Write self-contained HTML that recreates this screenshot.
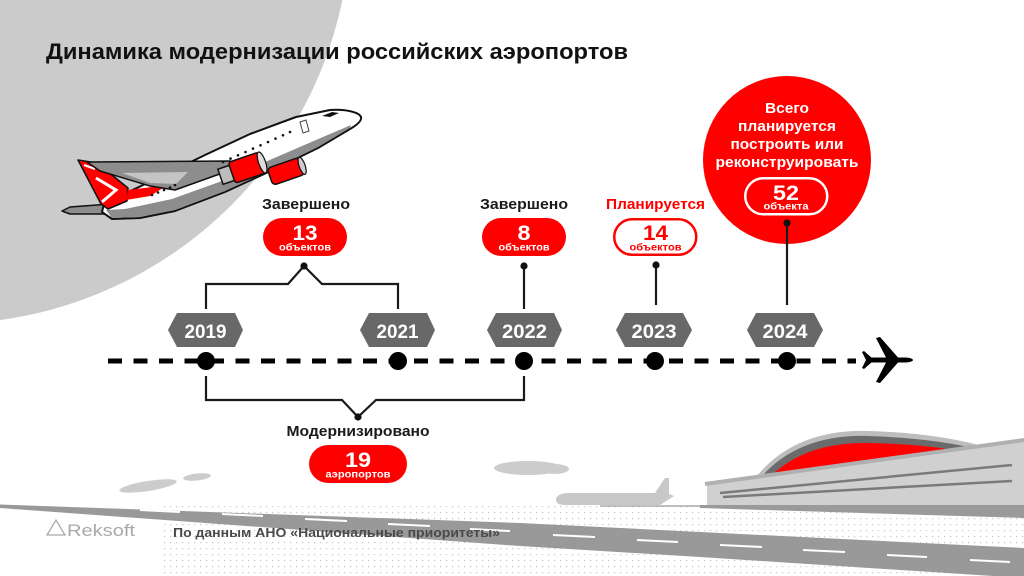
<!DOCTYPE html>
<html><head><meta charset="utf-8">
<style>
html,body{margin:0;padding:0;background:#fff;}
svg{display:block;}
text{font-family:"Liberation Sans","Noto Sans CJK SC",sans-serif;font-weight:bold;}
</style></head><body>
<svg width="1024" height="576" viewBox="0 0 1024 576" xmlns="http://www.w3.org/2000/svg">
<defs>
<pattern id="dots" width="6" height="6" patternUnits="userSpaceOnUse">
<rect x="2" y="2" width="1.2" height="1.2" fill="#c6c6c6"/>
</pattern>
</defs>
<rect width="1024" height="576" fill="#fff"/>
<circle cx="-56" cy="-83" r="407" fill="#cbcbcb"/>

<!-- Title -->
<text x="46" y="59" font-size="22" fill="#111" textLength="582" lengthAdjust="spacingAndGlyphs">Динамика модернизации российских аэропортов</text>

<!-- Big plane -->
<g>
<polygon points="62,211 70,207 124,203 127,210 118,214 70,214" fill="#8d8d8d" stroke="#111" stroke-width="1.5" stroke-linejoin="round"/>
<path d="M361,117 C359,112 345,109 330,110 L296,117 L250,134 L205,155 L160,177 L122,195 L104,204 L102,212 L112,219 L140,218 L175,211 L225,192 L275,169 L318,148 L350,129 C357,125 362,121 361,117 Z" fill="#fff" stroke="#111" stroke-width="2" stroke-linejoin="round"/>
<path d="M112,218 L140,217 L175,210 L225,191 L275,168 L318,147 L350,128 L351,125 L316,140 L272,159 L222,181 L172,199 L125,209 L106,210 Z" fill="#8d8d8d"/>
<polygon points="78,160 97,163 128,188 127,201 108,209 101,204" fill="#ff0000" stroke="#111" stroke-width="1.5" stroke-linejoin="round"/>
<polyline points="96,178 116,190 102,202" fill="none" stroke="#fff" stroke-width="3"/>
<polyline points="84,165 95,169" fill="none" stroke="#fff" stroke-width="2"/>
<polygon points="128,190 168,185 150,196 126,200" fill="#ff0000"/>
<polygon points="87,162 230,161 242,166 175,190 150,186 100,171" fill="#8d8d8d" stroke="#111" stroke-width="1.5" stroke-linejoin="round"/>
<polygon points="122,173 188,172 176,184 150,183" fill="#c4c4c4"/>
<g fill="#111">
<circle cx="223" cy="162" r="1.3"/><circle cx="230.5" cy="158.6" r="1.3"/><circle cx="238" cy="155.3" r="1.3"/><circle cx="245.5" cy="152" r="1.3"/><circle cx="253" cy="148.6" r="1.3"/><circle cx="260.5" cy="145.3" r="1.3"/><circle cx="268" cy="142" r="1.3"/><circle cx="275.5" cy="138.6" r="1.3"/><circle cx="283" cy="135.3" r="1.3"/><circle cx="290" cy="132" r="1.3"/>
<circle cx="152" cy="195" r="1.3"/><circle cx="158" cy="192.5" r="1.3"/><circle cx="164" cy="190" r="1.3"/><circle cx="170" cy="187.5" r="1.3"/><circle cx="175" cy="185" r="1.3"/>
<polygon points="322,116 332,112 339,113 330,117"/>
</g>
<polygon points="300,122 306,120 309,131 303,133" fill="none" stroke="#444" stroke-width="1"/>
<g transform="translate(287,171) rotate(-19)">
<rect x="-18" y="-9" width="34" height="18" rx="4" fill="#ff0000" stroke="#111" stroke-width="1.5"/>
<ellipse cx="16" cy="0" rx="3" ry="9" fill="#ccc" stroke="#111" stroke-width="1.2"/>
</g>
<g transform="translate(246,168) rotate(-19)">
<rect x="-27" y="-8" width="13" height="16" fill="#bdbdbd" stroke="#111" stroke-width="1.5"/>
<rect x="-15" y="-11" width="32" height="22" rx="3" fill="#ff0000" stroke="#111" stroke-width="1.5"/>
<ellipse cx="17" cy="0" rx="3.5" ry="11" fill="#ddd" stroke="#111" stroke-width="1.2"/>
</g>
</g>

<!-- Big red circle -->
<circle cx="787" cy="160" r="84" fill="#ff0000"/>
<g fill="#fff" font-size="14.5" text-anchor="middle">
<text x="787" y="113" textLength="44" lengthAdjust="spacingAndGlyphs">Всего</text>
<text x="787" y="131" textLength="98" lengthAdjust="spacingAndGlyphs">планируется</text>
<text x="787" y="149" textLength="113" lengthAdjust="spacingAndGlyphs">построить или</text>
<text x="787" y="167" textLength="143" lengthAdjust="spacingAndGlyphs">реконструировать</text>
</g>
<rect x="745.25" y="178.25" width="82" height="36" rx="18" fill="none" stroke="#fff" stroke-width="2.5"/>
<text x="786" y="200" font-size="21" fill="#fff" text-anchor="middle" textLength="26" lengthAdjust="spacingAndGlyphs">52</text>
<text x="786" y="209.5" font-size="10" fill="#fff" text-anchor="middle" textLength="45" lengthAdjust="spacingAndGlyphs">объекта</text>

<!-- Labels -->
<text x="306" y="209" font-size="15" fill="#1a1a1a" text-anchor="middle" textLength="88" lengthAdjust="spacingAndGlyphs">Завершено</text>
<text x="524" y="209" font-size="15" fill="#1a1a1a" text-anchor="middle" textLength="88" lengthAdjust="spacingAndGlyphs">Завершено</text>
<text x="655.5" y="209" font-size="15" fill="#ff0000" text-anchor="middle" textLength="99" lengthAdjust="spacingAndGlyphs">Планируется</text>

<rect x="263" y="218" width="84" height="38" rx="19" fill="#ff0000"/>
<text x="305" y="240" font-size="21" fill="#fff" text-anchor="middle" textLength="25" lengthAdjust="spacingAndGlyphs">13</text>
<text x="305" y="250.5" font-size="10.5" fill="#fff" text-anchor="middle" textLength="52" lengthAdjust="spacingAndGlyphs">объектов</text>

<rect x="482" y="218" width="84" height="38" rx="19" fill="#ff0000"/>
<text x="524" y="240" font-size="21" fill="#fff" text-anchor="middle" textLength="13" lengthAdjust="spacingAndGlyphs">8</text>
<text x="524" y="250.5" font-size="10.5" fill="#fff" text-anchor="middle" textLength="51" lengthAdjust="spacingAndGlyphs">объектов</text>

<rect x="614.25" y="219.25" width="82" height="35.5" rx="17.75" fill="#fff" stroke="#ff0000" stroke-width="2.5"/>
<text x="655.5" y="240" font-size="21" fill="#ff0000" text-anchor="middle" textLength="25" lengthAdjust="spacingAndGlyphs">14</text>
<text x="655.5" y="250.5" font-size="10.5" fill="#ff0000" text-anchor="middle" textLength="52" lengthAdjust="spacingAndGlyphs">объектов</text>

<!-- Connectors -->
<g fill="none" stroke="#1a1a1a" stroke-width="2.2" stroke-linejoin="miter">
<path d="M206,309 V284 H288 L304,266 L322,284 H398 V309"/>
<path d="M524,309 V266"/>
<path d="M656,305 V265"/>
<path d="M787,305 V223"/>
<path d="M206,376 V400 H342 L358,417 L376,400 H524 V376"/>
</g>
<g fill="#111">
<circle cx="304" cy="266" r="3.6"/>
<circle cx="524" cy="266" r="3.6"/>
<circle cx="656" cy="265" r="3.6"/>
<circle cx="787" cy="223" r="3.6"/>
<circle cx="358" cy="417" r="3.6"/>
</g>

<!-- Year hexagons -->
<g fill="#686868">
<polygon points="168,330 177,313 235,313 243,330 235,347 177,347"/>
<polygon points="360,330 369,313 427,313 435,330 427,347 369,347"/>
<polygon points="487,330 496,313 554,313 562,330 554,347 496,347"/>
<polygon points="616,330 625,313 683,313 692,330 683,347 625,347"/>
<polygon points="747,330 756,313 814,313 823,330 814,347 756,347"/>
</g>
<g fill="#fff" font-size="19" text-anchor="middle">
<text x="205.5" y="338" textLength="42" lengthAdjust="spacingAndGlyphs">2019</text>
<text x="397.5" y="338" textLength="42" lengthAdjust="spacingAndGlyphs">2021</text>
<text x="524.5" y="338" textLength="45" lengthAdjust="spacingAndGlyphs">2022</text>
<text x="654" y="338" textLength="45" lengthAdjust="spacingAndGlyphs">2023</text>
<text x="785" y="338" textLength="45" lengthAdjust="spacingAndGlyphs">2024</text>
</g>

<!-- Timeline -->
<line x1="108" y1="361" x2="856" y2="361" stroke="#000" stroke-width="5" stroke-dasharray="14 11.5"/>
<g fill="#000">
<circle cx="206" cy="361" r="9"/>
<circle cx="398" cy="361" r="9"/>
<circle cx="524" cy="361" r="9"/>
<circle cx="655" cy="361" r="9"/>
<circle cx="787" cy="361" r="9"/>
</g>
<!-- small plane icon -->
<g fill="#000">
<path d="M866,357.5 L905,357.5 C910,357.5 913,359 913,360 C913,361 910,362.5 905,362.5 L866,362.5 Z"/>
<polygon points="898,357.5 880,337 876,338 886,357.5"/>
<polygon points="898,362.5 880,383 876,382 886,362.5"/>
<polygon points="872,358 864,351 862,352 866,360 862,368 864,369 872,362"/>
</g>

<!-- Modernized -->
<text x="358" y="436" font-size="15" fill="#1a1a1a" text-anchor="middle" textLength="143" lengthAdjust="spacingAndGlyphs">Модернизировано</text>
<rect x="309" y="445" width="98" height="38" rx="19" fill="#ff0000"/>
<text x="358" y="467" font-size="21" fill="#fff" text-anchor="middle" textLength="26" lengthAdjust="spacingAndGlyphs">19</text>
<text x="358" y="477.5" font-size="10.5" fill="#fff" text-anchor="middle" textLength="65" lengthAdjust="spacingAndGlyphs">аэропортов</text>

<!-- Clouds -->
<g fill="#cccccc">
<ellipse cx="148" cy="486" rx="29" ry="5" transform="rotate(-9 148 486)"/>
<ellipse cx="197" cy="477" rx="14" ry="3.5" transform="rotate(-6 197 477)"/>
<ellipse cx="528" cy="468" rx="34" ry="7"/>
<ellipse cx="555" cy="469" rx="14" ry="5"/>
</g>

<!-- Ground texture -->
<rect x="163" y="506" width="861" height="70" fill="url(#dots)"/>
<line x1="600" y1="506" x2="710" y2="506" stroke="#9a9a9a" stroke-width="1.2"/>

<!-- Small plane silhouette -->
<path d="M556,500 C556,495 562,493 570,493 L655,493 L665,478 L669,478 L669,494 L674,496 L660,505 L565,505 C559,505 556,503 556,500 Z" fill="#c8c8c8"/>

<!-- Terminal -->
<polygon points="700,505 1024,505 1024,518 700,508" fill="#9a9a9a"/>
<path d="M756,477 Q795,429 868,431 Q935,433 982,446 Z" fill="#bdbdbd"/>
<path d="M762,476 Q800,434 868,436 Q930,438 973,448 Z" fill="#6b6b6b"/>
<path d="M773,474 Q808,442 868,443 Q918,444 953,450 Z" fill="#ff0000"/>
<polygon points="707,483 1024,439 1024,505 707,505" fill="#d0d0d0"/>
<line x1="705" y1="484" x2="1024" y2="440" stroke="#b0b0b0" stroke-width="4"/>
<line x1="720" y1="493" x2="1012" y2="465" stroke="#7a7a7a" stroke-width="2.5"/>
<line x1="723" y1="497" x2="1012" y2="481" stroke="#7a7a7a" stroke-width="2.5"/>

<!-- Runway -->
<path d="M0,504.5 L520,523 L700,532 L1024,548 L1024,578 L700,557 L520,546 L0,508 Z" fill="#999"/>
<g stroke="#fff" stroke-width="2">
<line x1="140" y1="510" x2="180" y2="512"/>
<line x1="222" y1="514" x2="263" y2="516"/>
<line x1="305" y1="519" x2="347" y2="521"/>
<line x1="388" y1="524" x2="430" y2="526"/>
<line x1="470" y1="529" x2="510" y2="531"/>
<line x1="553" y1="535" x2="595" y2="537"/>
<line x1="637" y1="540" x2="678" y2="542"/>
<line x1="720" y1="545" x2="762" y2="547"/>
<line x1="803" y1="550" x2="845" y2="552"/>
<line x1="887" y1="555" x2="927" y2="557"/>
<line x1="970" y1="560" x2="1010" y2="562"/>
</g>

<!-- Footer -->
<polygon points="47,535 56,520 65,535" fill="none" stroke="#aaa" stroke-width="1.3"/>
<text x="67" y="536" font-size="17" fill="#a8a8a8" textLength="68" lengthAdjust="spacingAndGlyphs" style="font-weight:normal">Reksoft</text>
<text x="173" y="537" font-size="12.5" fill="#4a4a4a" textLength="327" lengthAdjust="spacingAndGlyphs">По данным АНО «Национальные приоритеты»</text>
</svg>
</body></html>
